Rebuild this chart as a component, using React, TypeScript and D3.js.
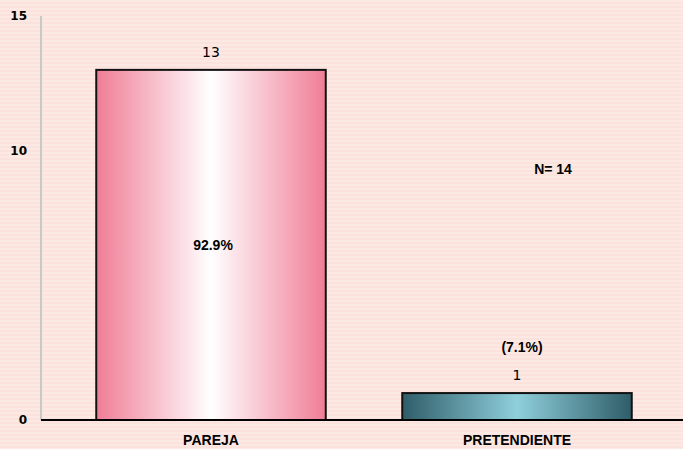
import React, { useEffect, useRef } from 'react';
import * as d3 from 'd3';

const categories = ['PAREJA', 'PRETENDIENTE'];
const counts = [13, 1];
const percentLabels = ['92.9%', '(7.1%)'];
const yTicks = [0, 10, 15];
const totalLabel = 'N= 14';

const App = () => {
    const svgRef = useRef<SVGSVGElement>(null);

    useEffect(() => {
        const width = 683;
        const height = 449;
        const svg = d3.select(svgRef.current);
        svg.selectAll('*').remove();
        svg.attr('width', width).attr('height', height);

        const defs = svg.append('defs');

        // fondo rayado
        const pat = defs.append('pattern')
            .attr('id', 'stripes')
            .attr('patternUnits', 'userSpaceOnUse')
            .attr('width', 8).attr('height', 4);
        pat.append('rect').attr('width', 8).attr('height', 4).attr('fill', '#fde9e4');
        pat.append('rect').attr('y', 2).attr('width', 8).attr('height', 2).attr('fill', '#fbe2dc');

        const grads = [
            { id: 'g0', edge: '#f07d96', mid: '#ffffff' },
            { id: 'g1', edge: '#2e5d68', mid: '#8fcfdc' },
        ];
        grads.forEach(g => {
            const lg = defs.append('linearGradient').attr('id', g.id)
                .attr('x1', '0%').attr('x2', '100%').attr('y1', '0%').attr('y2', '0%');
            lg.append('stop').attr('offset', '0%').attr('stop-color', g.edge);
            lg.append('stop').attr('offset', '50%').attr('stop-color', g.mid);
            lg.append('stop').attr('offset', '100%').attr('stop-color', g.edge);
        });

        svg.append('rect').attr('width', width).attr('height', height).attr('fill', 'url(#stripes)');

        const x = d3.scaleBand<string>().domain(categories).range([58, 670]).padding(0);
        const y = d3.scaleLinear().domain([0, 15]).range([420, 16]);
        const barW = x.bandwidth() * 0.75;
        const arial = 'Arial, "Liberation Sans", sans-serif';

        // eje y
        svg.append('line')
            .attr('x1', 41).attr('x2', 41)
            .attr('y1', y(15)).attr('y2', y(0))
            .attr('stroke', '#c8c8c8').attr('stroke-width', 2);

        svg.selectAll('.ytick')
            .data(yTicks)
            .enter()
            .append('text')
            .attr('x', 27)
            .attr('y', d => y(d))
            .attr('dy', '0.35em')
            .attr('text-anchor', 'end')
            .style('font-family', 'Verdana, "DejaVu Sans", sans-serif')
            .style('font-weight', 'bold')
            .style('font-size', '12px')
            .text(d => d);

        // barras
        svg.selectAll('.bar')
            .data(counts)
            .enter()
            .append('rect')
            .attr('x', (d, i) => x(categories[i])! + (x.bandwidth() - barW) / 2)
            .attr('y', d => y(d))
            .attr('width', barW)
            .attr('height', d => y(0) - y(d))
            .attr('fill', (d, i) => `url(#g${i})`)
            .attr('stroke', '#111')
            .attr('stroke-width', 2);

        // linea base
        svg.append('line')
            .attr('x1', 41).attr('x2', width)
            .attr('y1', y(0)).attr('y2', y(0))
            .attr('stroke', '#000').attr('stroke-width', 2);

        // valores
        svg.selectAll('.val')
            .data(counts)
            .enter()
            .append('text')
            .attr('x', (d, i) => x(categories[i])! + x.bandwidth() / 2)
            .attr('y', d => y(d) - 13)
            .attr('text-anchor', 'middle')
            .style('font-family', 'Verdana, "DejaVu Sans", sans-serif')
            .style('font-size', '14px')
            .text(d => d);

        // porcentajes
        const pctY = [y(counts[0] / 2), y(counts[1]) - 46];
        svg.selectAll('.pct')
            .data(percentLabels)
            .enter()
            .append('text')
            .attr('x', (d, i) => x(categories[i])! + x.bandwidth() / 2 + (i === 0 ? 2 : 5))
            .attr('y', (d, i) => pctY[i])
            .attr('dy', '0.35em')
            .attr('text-anchor', 'middle')
            .style('font-family', arial)
            .style('font-weight', 'bold')
            .style('font-size', '14px')
            .text(d => d);

        svg.append('text')
            .attr('x', 553).attr('y', y(9.3))
            .attr('dy', '0.35em')
            .attr('text-anchor', 'middle')
            .style('font-family', arial)
            .style('font-weight', 'bold')
            .style('font-size', '14px')
            .text(totalLabel);

        // categorias
        svg.selectAll('.cat')
            .data(categories)
            .enter()
            .append('text')
            .attr('x', d => x(d)! + x.bandwidth() / 2)
            .attr('y', 440)
            .attr('dy', '0.35em')
            .attr('text-anchor', 'middle')
            .style('font-family', arial)
            .style('font-weight', 'bold')
            .style('font-size', '14px')
            .text(d => d);
    }, []);

    return <svg ref={svgRef} style={{ position: 'absolute', left: 0, top: 0 }}></svg>;
};

export default App;
